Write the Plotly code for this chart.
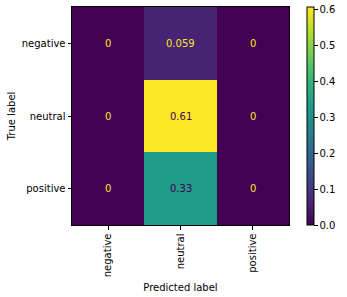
import plotly.graph_objects as go

labels = ["negative", "neutral", "positive"]
matrix = [
    [0.0, 0.0588, 0.0],
    [0.0, 0.6078, 0.0],
    [0.0, 0.3333, 0.0],
]
cell_text = [
    ["0", "0.059", "0"],
    ["0", "0.61", "0"],
    ["0", "0.33", "0"],
]

zmin = 0.0
zmax = max(max(r) for r in matrix)
thresh = (zmin + zmax) / 2

fig = go.Figure(
    go.Heatmap(
        z=matrix,
        x=labels,
        y=labels,
        zmin=zmin,
        zmax=zmax,
        colorscale="Viridis",
        xgap=0,
        ygap=0,
        colorbar=dict(
            x=(307 - 72) / 217,
            xanchor="left",
            xpad=0,
            y=0.5,
            yanchor="middle",
            ypad=0,
            len=1,
            lenmode="fraction",
            thickness=7,
            thicknessmode="pixels",
            outlinewidth=1,
            outlinecolor="black",
            tick0=0,
            dtick=0.1,
            tickformat=".1f",
            ticks="outside",
            ticklen=3.5,
            tickwidth=1,
            tickcolor="black",
            tickfont=dict(family="DejaVu Sans", size=10, color="black"),
        ),
    )
)

annotations = []
for i, row_label in enumerate(labels):
    for j, col_label in enumerate(labels):
        v = matrix[i][j]
        color = "#440154" if v >= thresh else "#fde725"
        annotations.append(
            dict(
                x=col_label,
                y=row_label,
                text=cell_text[i][j],
                showarrow=False,
                font=dict(family="DejaVu Sans", size=10, color=color),
                xref="x",
                yref="y",
            )
        )

fig.update_layout(
    width=347,
    height=297,
    margin=dict(l=72, r=58, t=7, b=72, autoexpand=False),
    paper_bgcolor="white",
    plot_bgcolor="white",
    font=dict(family="DejaVu Sans", size=10, color="black"),
    annotations=annotations,
    xaxis=dict(
        title=dict(text="Predicted label", standoff=7, font=dict(size=10)),
        automargin=False,
        tickangle=-90,
        ticks="outside",
        ticklen=3.5,
        tickcolor="black",
        showline=True,
        linecolor="black",
        linewidth=1,
        mirror=True,
        showgrid=False,
        zeroline=False,
    ),
    yaxis=dict(
        title=dict(text="True label", standoff=4, font=dict(size=10)),
        automargin=False,
        autorange="reversed",
        ticks="outside",
        ticklen=3.5,
        tickcolor="black",
        showline=True,
        linecolor="black",
        linewidth=1,
        mirror=True,
        showgrid=False,
        zeroline=False,
    ),
)

fig.write_html("out.html")
